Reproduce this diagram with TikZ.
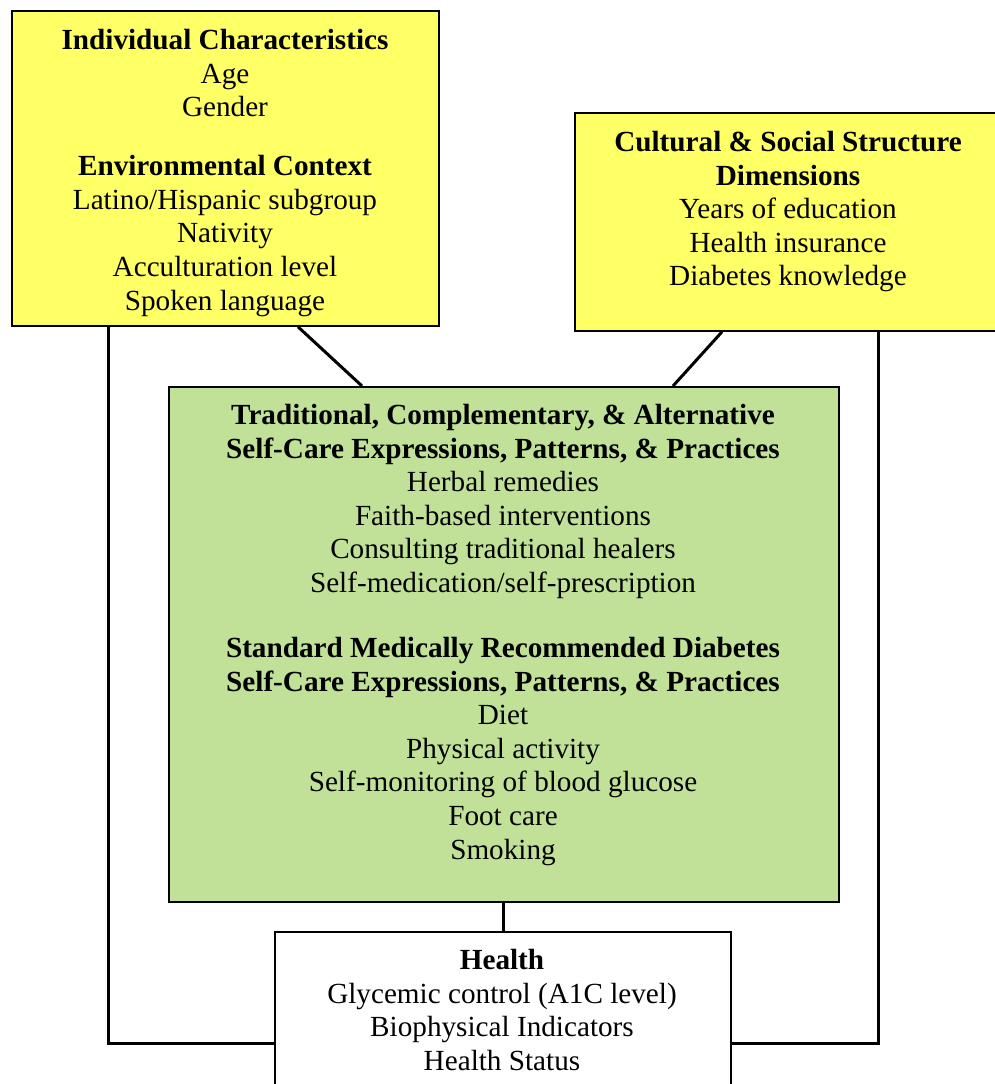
\documentclass[tikz,border=0pt]{standalone}
\usepackage{fontspec}
\setmainfont{Liberation Serif}
\definecolor{boxyellow}{RGB}{255,255,102}
\definecolor{boxgreen}{RGB}{193,225,152}
\tikzset{
  box/.style={draw=black, line width=1.8pt, inner sep=0pt, anchor=north west},
  txt/.style={align=center, inner sep=0pt, anchor=north, font=\fontsize{29.2}{33.6}\selectfont},
  link/.style={draw=black, line width=3pt}
}
\begin{document}
\begin{tikzpicture}[x=1pt,y=-1pt]
\useasboundingbox (0,0) rectangle (995,1084);
\clip (0,0) rectangle (995,1084);
% boxes
\node[box, fill=boxyellow, minimum width=427pt, minimum height=315pt] (ind) at (11,10) {};
\node[box, fill=boxyellow, minimum width=426pt, minimum height=218pt] (cul) at (574,112) {};
\node[box, fill=boxgreen, minimum width=670pt, minimum height=515pt] (tca) at (168,386) {};
\node[box, fill=white, minimum width=456pt, minimum height=170pt] (hea) at (274,931) {};
% texts
\node[txt] (indt) at (225,29) {\textbf{Individual Characteristics}\\Age\\Gender\\[25.5pt]\textbf{Environmental Context}\\Latino/Hispanic subgroup\\Nativity\\Acculturation level\\Spoken language};
\node[txt] (cult) at (788,131) {\textbf{Cultural \& Social Structure}\\\textbf{Dimensions}\\Years of education\\Health insurance\\Diabetes knowledge};
\node[txt] (tcat) at (503,404) {\textbf{Traditional, Complementary, \& Alternative}\\\textbf{Self-Care Expressions, Patterns, \& Practices}\\Herbal remedies\\Faith-based interventions\\Consulting traditional healers\\Self-medication/self-prescription\\[31.5pt]\textbf{Standard Medically Recommended Diabetes}\\\textbf{Self-Care Expressions, Patterns, \& Practices}\\Diet\\Physical activity\\Self-monitoring of blood glucose\\Foot care\\Smoking};
\node[txt] (heat) at (502,949) {\textbf{Health}\\Glycemic control (A1C level)\\Biophysical Indicators\\Health Status};
% connectors
\draw[link] ([xshift=97pt]ind.south west) |- ([yshift=-112pt]hea.north west);
\draw[link] ([xshift=304pt]cul.south west) |- ([yshift=-112pt]hea.north east);
\draw[link] ([xshift=287pt]ind.south west) -- ([xshift=194pt]tca.north west);
\draw[link] ([xshift=148pt]cul.south west) -- ([xshift=505pt]tca.north west);
\draw[link] (tca.south) -- (tca.south |- hea.north);
\end{tikzpicture}
\end{document}
